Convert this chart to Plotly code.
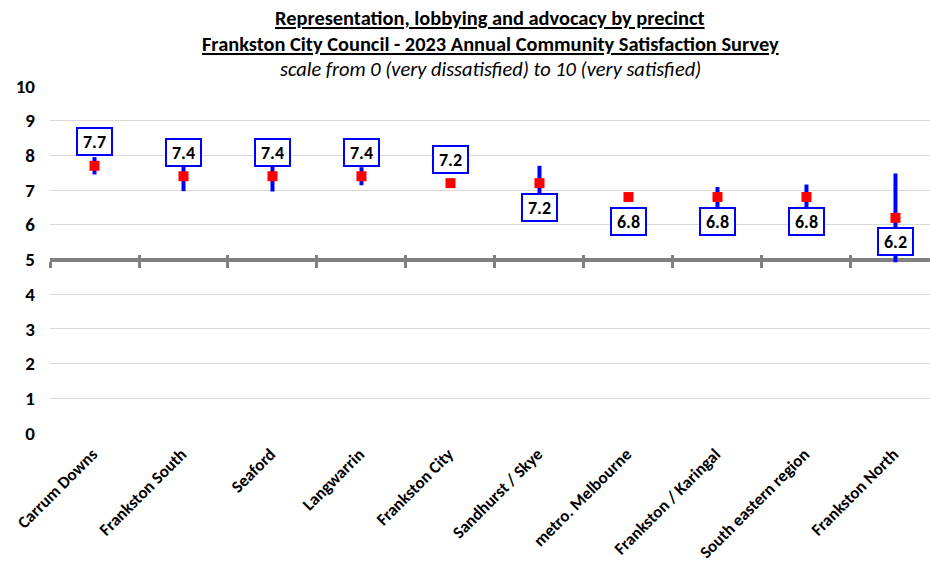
import plotly.graph_objects as go

# Precinct results: mean satisfaction and half-width of the 95% confidence interval
precincts = ["Carrum Downs", "Frankston South", "Seaford", "Langwarrin", "Frankston City",
             "Sandhurst / Skye", "metro. Melbourne", "Frankston / Karingal",
             "South eastern region", "Frankston North"]
scores = [7.7, 7.4, 7.4, 7.4, 7.2, 7.2, 6.8, 6.8, 6.8, 6.2]
ci_half = [0.25, 0.43, 0.44, 0.26, 0.12, 0.50, 0.05, 0.29, 0.36, 1.28]
label_above = [True, True, True, True, True, False, False, False, False, False]

y_ticks = list(range(0, 11))
boundaries = [i - 0.5 for i in range(len(precincts))]

FONT = "Liberation Sans Narrow, Arial Narrow, Carlito, Calibri, Lato, sans-serif"
BLUE = "#0000FF"
RED = "#FF0000"
GREY = "#808080"

X_RANGE = [-0.5, 9.388]

fig = go.Figure()

# Reference line at 5 with category separators (drawn on free axes through y = 5)
fig.add_trace(go.Scatter(x=[X_RANGE[0]], y=[5], xaxis="x2", mode="markers",
                         marker=dict(opacity=0), hoverinfo="skip", showlegend=False))
fig.add_trace(go.Scatter(x=[X_RANGE[0]], y=[5], xaxis="x3", mode="markers",
                         marker=dict(opacity=0), hoverinfo="skip", showlegend=False))

# Means with confidence interval bars
fig.add_trace(go.Scatter(
    x=precincts, y=scores, mode="markers",
    marker=dict(symbol="square", size=10, color=RED),
    error_y=dict(type="data", array=ci_half, color=BLUE, thickness=4, width=0),
    showlegend=False, hoverinfo="x+y",
))

# Value labels in boxes
for name, val, above in zip(precincts, scores, label_above):
    fig.add_annotation(
        x=name, y=val, text=f"<b>{val:.1f}</b>", showarrow=False,
        yshift=24 if above else -24,
        font=dict(family=FONT, size=18, color="black"),
        bgcolor="white", bordercolor=BLUE, borderwidth=2, borderpad=0,
        width=33, height=25,
    )

# Title lines
plot_top, plot_h = 86, 347
def paper_y(px):
    return 1 + (plot_top - px) / plot_h

titles = [
    ("<b><u>Representation, lobbying and advocacy by precinct</u></b>", 18, 20.4),
    ("<b><u>Frankston City Council - 2023 Annual Community Satisfaction Survey</u></b>", 44, 20.4),
    ("<i>scale from 0 (very dissatisfied) to 10 (very satisfied)</i>", 69, 20.4),
]
for txt, py, size in titles:
    fig.add_annotation(x=0.5, y=paper_y(py), xref="paper", yref="paper", text=txt,
                       showarrow=False, yanchor="middle", xanchor="center",
                       font=dict(family=FONT, size=size, color="black"))

fig.update_layout(
    width=930, height=566,
    margin=dict(l=50, r=0, t=86, b=133),
    paper_bgcolor="white", plot_bgcolor="white",
    font=dict(family=FONT, color="black"),
    xaxis=dict(
        type="category", range=X_RANGE, tickangle=-45, automargin=False,
        showgrid=False, showline=False, ticks="", zeroline=False,
        tickfont=dict(family=FONT, size=17, color="black", weight="bold"),
        ticklabelstandoff=7, ticklabelshift=-2,
    ),
    xaxis2=dict(
        overlaying="x", anchor="free", position=0.5, range=X_RANGE, automargin=False,
        showline=True, linecolor=GREY, linewidth=4, layer="below traces",
        tickmode="array", tickvals=boundaries, ticks="outside", ticklen=6,
        tickwidth=3, tickcolor=GREY, showticklabels=False, showgrid=False, zeroline=False,
    ),
    xaxis3=dict(
        overlaying="x", anchor="free", position=0.5, range=X_RANGE, automargin=False,
        showline=False, layer="below traces",
        tickmode="array", tickvals=boundaries, ticks="inside", ticklen=5,
        tickwidth=3, tickcolor=GREY, showticklabels=False, showgrid=False, zeroline=False,
    ),
    yaxis=dict(
        range=[0, 10], tickmode="array", tickvals=y_ticks, automargin=False,
        showgrid=True, gridcolor="#D9D9D9", gridwidth=1, zeroline=False, showline=False,
        tickfont=dict(family=FONT, size=19, color="black", weight="bold"),
        ticklabelstandoff=14,
    ),
)

fig.write_html("out.html")
